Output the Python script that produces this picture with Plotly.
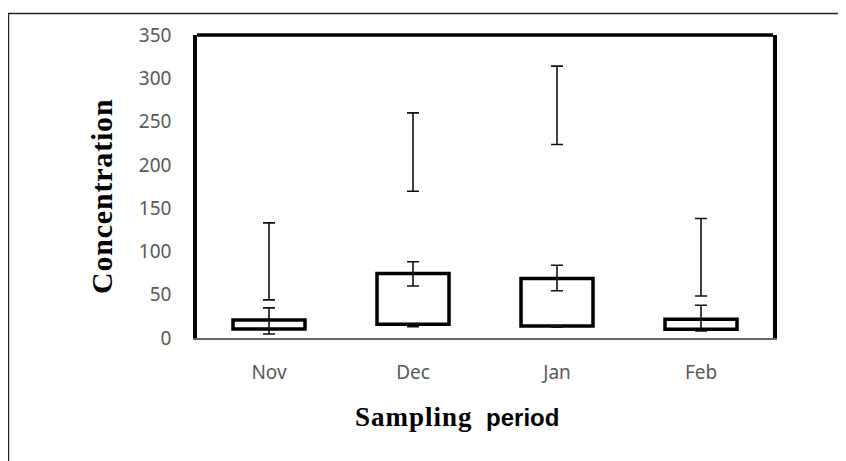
import plotly.graph_objects as go

# ---- data ----
months = ["Nov", "Dec", "Jan", "Feb"]
box_low = [10.4, 15.8, 14.0, 10.0]      # bottom edge of box
box_high = [20.9, 74.5, 68.7, 21.6]     # top edge of box
inner_low = [4.6, 60.0, 54.5, 8.0]      # inner whisker low
inner_high = [34.8, 88.0, 84.0, 37.9]   # inner whisker high
cap_low = [None, 13.0, 12.5, None]      # small cap below box (Dec, Jan)
cap_high = [None, 15.8, 14.0, None]
upper_low = [44.0, 169.5, 223.6, 48.6]  # floating range low
upper_high = [133.0, 260.0, 314.0, 138.0]  # floating range high

y_ticks = [0, 50, 100, 150, 200, 250, 300, 350]

# geometry (screen pixels; page body has an 8px margin)
OFF = 8
W, H = 846 - OFF, 461 - OFF
L, R, T, B = 197, 773, 35, 338
pw, ph = R - L, B - T


def px(x):
    return (x - L) / pw


def py(y):
    return (B - y) / ph


def err_trace(lo, hi, width=6):
    xs, ys, up, dn = [], [], [], []
    for m, a, b in zip(months, lo, hi):
        if a is None or b is None:
            continue
        mid = (a + b) / 2
        xs.append(m)
        ys.append(mid)
        up.append(b - mid)
        dn.append(mid - a)
    return go.Scatter(
        x=xs, y=ys, mode="markers",
        marker=dict(size=1, color="rgba(0,0,0,0)"),
        error_y=dict(type="data", symmetric=False, array=up, arrayminus=dn,
                     color="#111111", thickness=1.6, width=width),
        showlegend=False, hoverinfo="skip",
    )


fig = go.Figure()
fig.add_trace(go.Bar(
    x=months,
    y=[h - l for l, h in zip(box_low, box_high)],
    base=box_low,
    width=0.5,
    marker=dict(color="white", line=dict(color="black", width=3.5)),
    showlegend=False, hoverinfo="skip",
))
fig.add_trace(err_trace(inner_low, inner_high))
fig.add_trace(err_trace(cap_low, cap_high))
fig.add_trace(err_trace(upper_low, upper_high))

tickfont = dict(family="Noto Sans", size=19, color="#595959")

fig.update_layout(
    width=W, height=H,
    margin=dict(l=L - OFF, r=W - (R - OFF), t=T - OFF, b=H - (B - OFF)),
    paper_bgcolor="white", plot_bgcolor="white",
    xaxis=dict(
        type="category", range=[-0.5, 3.5], showgrid=False, zeroline=False,
        showline=True, linecolor="#666666", linewidth=1.5,
        ticks="", tickfont=tickfont, ticklabelstandoff=16,
    ),
    yaxis=dict(
        range=[0, 350], tickvals=y_ticks, showgrid=False, zeroline=False,
        showline=True, mirror=True, linecolor="black", linewidth=3.5,
        ticks="", tickfont=tickfont, ticklabelstandoff=18,
    ),
    shapes=[
        dict(type="line", xref="paper", yref="paper", x0=0, x1=1, y0=1, y1=1,
             line=dict(color="black", width=3.5)),
        dict(type="rect", xref="paper", yref="paper",
             x0=px(8.5), x1=px(W + 40), y0=py(H + 40), y1=py(13.5),
             line=dict(color="#222222", width=1.4)),
    ],
    annotations=[
        dict(xref="paper", yref="paper", x=px(101), y=py(197),
             text="<span style='letter-spacing:0.8px'><b>Concentration</b></span>",
             textangle=-90, showarrow=False,
             font=dict(family="Liberation Serif", size=30, color="black"),
             xanchor="center", yanchor="middle"),
        dict(xref="paper", yref="paper", x=px(457), y=py(417),
             text=("<span style='letter-spacing:1px'><b>Sampling</b></span>  "
                   "<span style='font-family:Liberation Sans;font-size:24px'><b>period</b></span>"),
             showarrow=False,
             font=dict(family="Liberation Serif", size=27, color="black"),
             xanchor="center", yanchor="middle"),
    ],
)

fig.write_html("out.html")
